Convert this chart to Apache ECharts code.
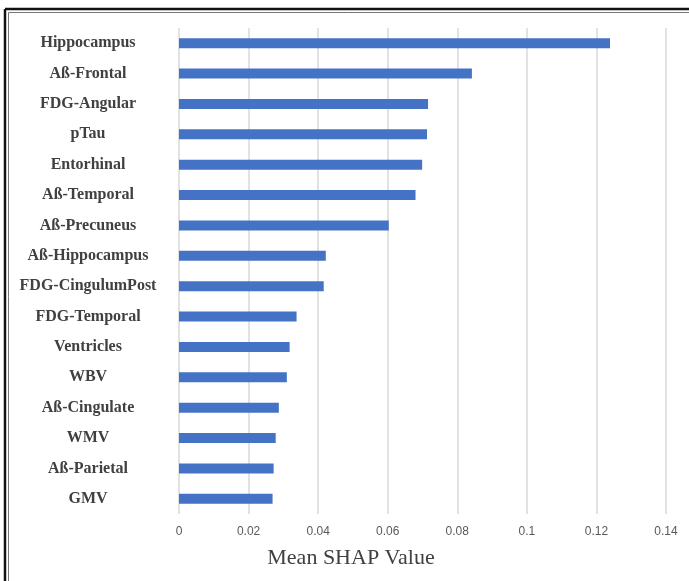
<!DOCTYPE html>
<html>
<head>
<meta charset="utf-8">
<script src="https://cdn.jsdelivr.net/npm/echarts@6/dist/echarts.min.js"></script>
<style>
html,body{margin:0;padding:0;background:#fff;}
#chart{width:689px;height:581px;}
</style>
</head>
<body>
<div id="chart"></div>
<script>
// Categories, top to bottom
const categories = [
  "Hippocampus", "Aß-Frontal", "FDG-Angular", "pTau", "Entorhinal",
  "Aß-Temporal", "Aß-Precuneus", "Aß-Hippocampus", "FDG-CingulumPost",
  "FDG-Temporal", "Ventricles", "WBV", "Aß-Cingulate", "WMV",
  "Aß-Parietal", "GMV"
];
// Mean SHAP values
const shapValues = [
  0.1239, 0.0842, 0.0716, 0.0713, 0.0699,
  0.0680, 0.0603, 0.0422, 0.0416,
  0.0338, 0.0318, 0.0310, 0.0287, 0.0278,
  0.0272, 0.0269
];
const xTicks = { min: 0, max: 0.14, interval: 0.02 };
const axisTitle = "Mean SHAP Value";

const chart = echarts.init(document.getElementById('chart'), null, { renderer: 'canvas' });
chart.setOption({
  animation: false,
  backgroundColor: '#ffffff',
  grid: { left: 179, right: 23, top: 28, bottom: 67, containLabel: false },
  title: {
    text: axisTitle,
    left: 346, top: 542,
    textAlign: 'center',
    textStyle: { fontFamily: 'Liberation Serif', fontWeight: 'normal', fontSize: 22, color: '#404040' }
  },
  xAxis: {
    type: 'value',
    min: xTicks.min, max: xTicks.max, interval: xTicks.interval,
    axisLine: { show: false },
    axisTick: { show: false },
    splitLine: { show: true, lineStyle: { color: '#d9d9d9', width: 1.5 } },
    axisLabel: {
      margin: 12,
      fontFamily: 'Liberation Sans', fontSize: 12, color: '#595959',
      formatter: v => String(Math.round(v * 100) / 100)
    }
  },
  yAxis: {
    type: 'category',
    data: categories,
    inverse: true,
    axisLine: { show: false },
    axisTick: { show: false },
    splitLine: { show: false },
    axisLabel: {
      align: 'center',
      margin: 91,
      fontFamily: 'Liberation Serif', fontWeight: 'bold', fontSize: 16, color: '#404040'
    }
  },
  series: [{
    type: 'bar',
    data: shapValues,
    barWidth: 10,
    itemStyle: { color: '#4472C4' }
  }],
  graphic: [
    { type: 'line', shape: { x1: 5, y1: 9, x2: 689, y2: 9 }, style: { stroke: '#111', lineWidth: 2.5 } },
    { type: 'line', shape: { x1: 5, y1: 9, x2: 5, y2: 581 }, style: { stroke: '#111', lineWidth: 2.5 } },
    { type: 'line', shape: { x1: 8.5, y1: 12.5, x2: 689, y2: 12.5 }, style: { stroke: '#777', lineWidth: 1 } },
    { type: 'line', shape: { x1: 8.5, y1: 12.5, x2: 8.5, y2: 581 }, style: { stroke: '#777', lineWidth: 1 } }
  ]
});
</script>
</body>
</html>
